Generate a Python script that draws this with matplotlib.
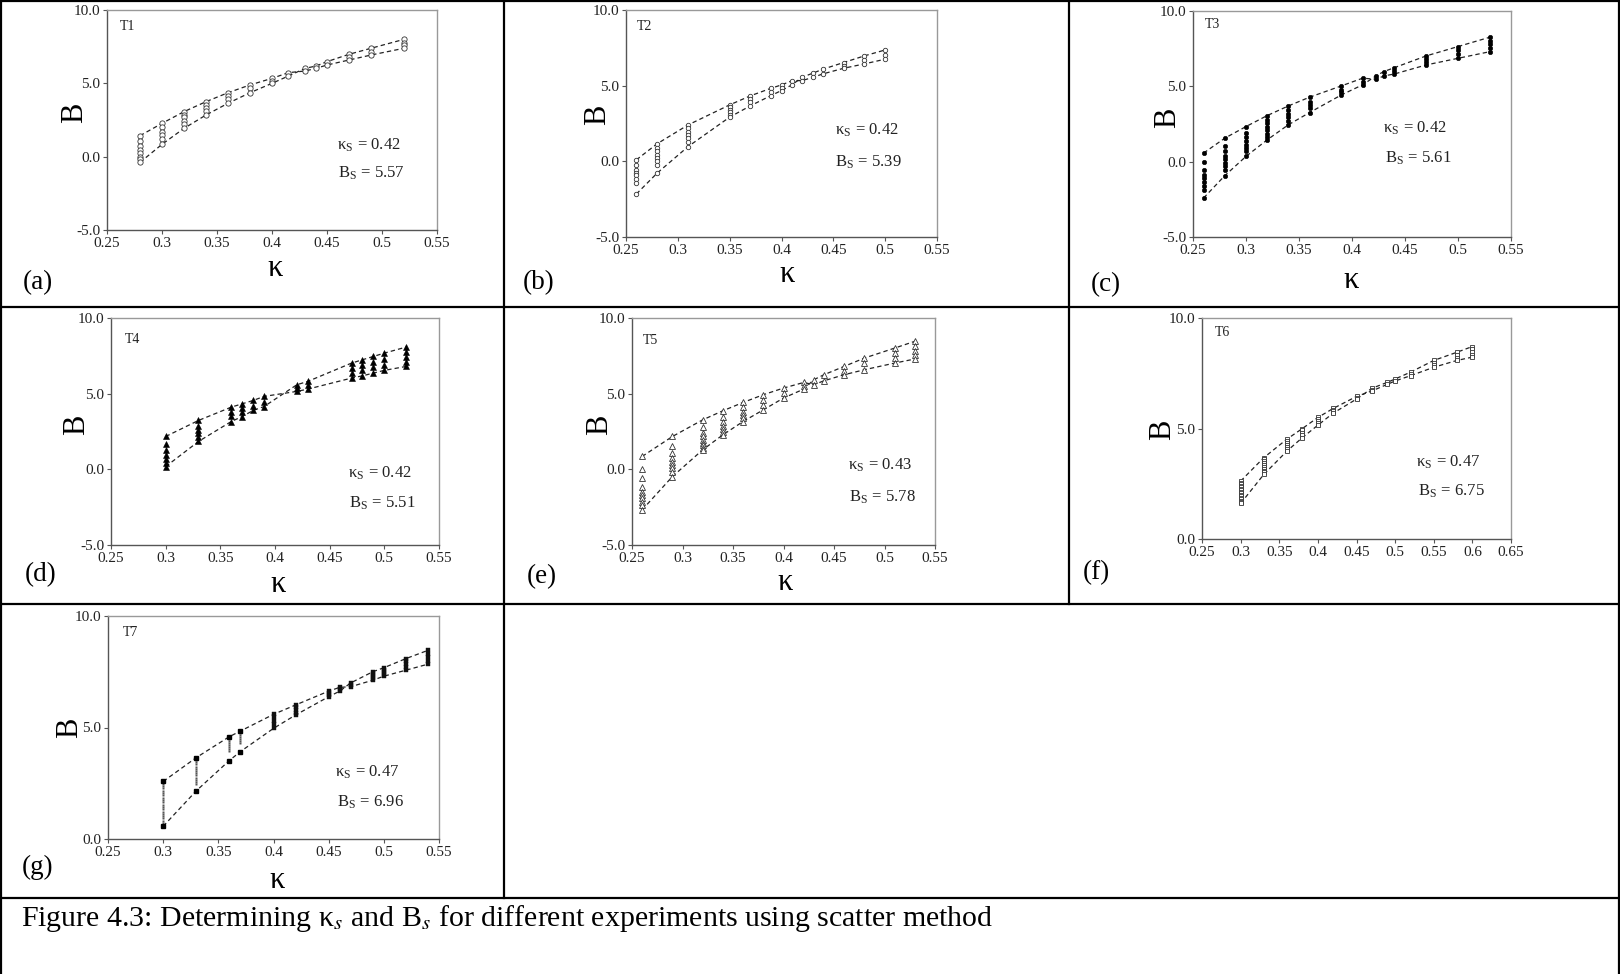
import numpy as np
import matplotlib
matplotlib.use("Agg")
import matplotlib.pyplot as plt
from matplotlib.lines import Line2D

plt.rcParams['font.family'] = ['Liberation Serif', 'DejaVu Serif']
plt.rcParams['mathtext.fontset'] = 'stix'

W, H = 1620, 974

# ---- data: kappa columns and the B values in each column ----
t1_kappa = [0.28, 0.30, 0.32, 0.34, 0.36, 0.38, 0.40, 0.415, 0.43, 0.44, 0.45, 0.47, 0.49, 0.52]
t1_B = [[1.43, 1.09, 0.75, 0.45, 0.23, 0.0, -0.18, -0.39],
        [2.27, 2.0, 1.70, 1.48, 1.18, 0.84],
        [3.07, 2.84, 2.68, 2.45, 2.23, 1.93],
        [3.75, 3.52, 3.30, 3.11, 2.84],
        [4.36, 4.16, 3.93, 3.64],
        [4.89, 4.66, 4.36],
        [5.34, 5.17, 5.0],
        [5.73, 5.5],
        [6.02, 5.84],
        [6.18, 6.02],
        [6.48, 6.25],
        [6.98, 6.78, 6.59],
        [7.39, 7.15, 6.93],
        [8.0, 7.78, 7.58, 7.39]]

t2_kappa = [0.26, 0.28, 0.31, 0.35, 0.37, 0.39, 0.40, 0.41, 0.42, 0.43, 0.44, 0.46, 0.48, 0.50]
t2_B = [[0.10, -0.27, -0.60, -0.77, -0.93, -1.15, -1.44, -2.16],
        [1.16, 0.87, 0.65, 0.43, 0.21, -0.01, -0.23, -0.78],
        [2.41, 2.19, 1.97, 1.75, 1.53, 1.31, 0.98],
        [3.73, 3.58, 3.40, 3.23, 3.07, 2.92],
        [4.33, 4.10, 3.90, 3.67],
        [4.83, 4.60, 4.35],
        [5.05, 4.85, 4.68],
        [5.32, 5.05],
        [5.56, 5.34],
        [5.82, 5.54],
        [6.09, 5.78],
        [6.53, 6.30, 6.15],
        [6.97, 6.70, 6.44],
        [7.36, 7.05, 6.75]]

t3_kappa = [0.26, 0.28, 0.30, 0.32, 0.34, 0.36, 0.39, 0.41, 0.423, 0.43, 0.44, 0.47, 0.50, 0.53]
t3_B = [[0.57, -0.05, -0.54, -0.87, -1.09, -1.38, -1.64, -1.91, -2.41],
        [1.56, 1.05, 0.68, 0.39, 0.17, -0.10, -0.32, -0.54, -0.93],
        [2.33, 1.89, 1.63, 1.34, 1.12, 0.90, 0.68, 0.35],
        [3.06, 2.78, 2.56, 2.33, 2.07, 1.85, 1.63, 1.45],
        [3.70, 3.44, 3.17, 2.95, 2.73, 2.45],
        [4.28, 3.99, 3.77, 3.55, 3.26],
        [5.03, 4.76, 4.61, 4.43],
        [5.54, 5.32, 5.10],
        [5.71, 5.47],
        [5.98, 5.69],
        [6.24, 6.03, 5.82],
        [7.02, 6.80, 6.60, 6.42],
        [7.64, 7.40, 7.12, 6.86],
        [8.26, 8.00, 7.78, 7.55, 7.30]]

t4_kappa = [0.30, 0.33, 0.36, 0.37, 0.38, 0.39, 0.42, 0.43, 0.47, 0.48, 0.49, 0.50, 0.52]
t4_B = [[2.17, 1.68, 1.29, 0.96, 0.67, 0.40, 0.18],
        [3.23, 2.87, 2.61, 2.39, 2.12, 1.84],
        [4.11, 3.82, 3.54, 3.16],
        [4.33, 4.04, 3.76, 3.49],
        [4.55, 4.20, 3.89],
        [4.82, 4.48, 4.15],
        [5.59, 5.37, 5.15],
        [5.81, 5.55, 5.30],
        [7.02, 6.69, 6.36, 6.03],
        [7.24, 6.91, 6.54, 6.18],
        [7.46, 7.09, 6.74, 6.36],
        [7.68, 7.29, 6.91, 6.54],
        [8.08, 7.73, 7.42, 7.11, 6.80]]

t5_kappa = [0.26, 0.29, 0.32, 0.34, 0.36, 0.38, 0.40, 0.42, 0.43, 0.44, 0.46, 0.48, 0.51, 0.53]
t5_B = [[0.85, 0.01, -0.59, -1.14, -1.47, -1.69, -1.91, -2.13, -2.35, -2.68],
        [2.17, 1.55, 1.07, 0.73, 0.51, 0.29, 0.07, -0.15, -0.48],
        [3.27, 2.79, 2.43, 2.17, 1.95, 1.77, 1.60, 1.44, 1.29],
        [3.87, 3.49, 3.16, 2.87, 2.65, 2.50, 2.28],
        [4.42, 4.11, 3.82, 3.60, 3.38, 3.16],
        [4.93, 4.60, 4.26, 3.93],
        [5.37, 5.04, 4.71],
        [5.74, 5.52, 5.30],
        [5.92, 5.59],
        [6.25, 5.85],
        [6.80, 6.52, 6.25],
        [7.35, 7.00, 6.58],
        [8.01, 7.70, 7.35, 7.02],
        [8.46, 8.15, 7.85, 7.55, 7.29]]

t6_kappa = [0.30, 0.33, 0.36, 0.38, 0.40, 0.42, 0.45, 0.47, 0.49, 0.50, 0.52, 0.55, 0.58, 0.60]
t6_B = [[2.62, 2.55, 2.48, 2.41, 2.35, 2.28, 2.21, 2.14, 2.07, 2.01, 1.94, 1.87, 1.80, 1.74, 1.67, 1.61],
        [3.68, 3.60, 3.52, 3.43, 3.35, 3.26, 3.18, 3.09, 3.01, 2.92],
        [4.52, 4.43, 4.33, 4.24, 4.15, 4.06, 3.98],
        [5.00, 4.91, 4.81, 4.70, 4.59],
        [5.50, 5.41, 5.32, 5.23, 5.15],
        [5.91, 5.84, 5.77, 5.70],
        [6.45, 6.39, 6.33],
        [6.82, 6.76, 6.70],
        [7.09, 7.00],
        [7.24, 7.15],
        [7.55, 7.47, 7.39],
        [8.08, 7.98, 7.87, 7.77],
        [8.45, 8.33, 8.20, 8.08],
        [8.71, 8.58, 8.45, 8.33, 8.23]]

t7_kappa = [0.30, 0.33, 0.36, 0.37, 0.40, 0.42, 0.45, 0.46, 0.47, 0.49, 0.50, 0.52, 0.54]
t7_B = [[2.58, 2.47, 2.37, 2.27, 2.16, 2.06, 1.96, 1.85, 1.75, 1.65, 1.54, 1.44, 1.34, 1.23, 1.13, 1.03, 0.92, 0.82, 0.70, 0.57],
        [3.65, 3.55, 3.45, 3.35, 3.25, 3.15, 3.05, 2.95, 2.85, 2.75, 2.65, 2.55, 2.45, 2.16],
        [4.59, 4.50, 4.41, 4.32, 4.23, 4.14, 4.05, 3.96, 3.52],
        [4.84, 4.75, 4.66, 4.57, 4.48, 4.39, 4.30, 3.92],
        [5.59, 5.45, 5.30, 5.15, 4.96],
        [6.01, 5.90, 5.78, 5.67, 5.56],
        [6.63, 6.55, 6.47, 6.38],
        [6.80, 6.72, 6.63],
        [7.00, 6.92, 6.83],
        [7.50, 7.40, 7.30, 7.21, 7.12],
        [7.68, 7.58, 7.49, 7.39, 7.30],
        [8.09, 7.96, 7.83, 7.70, 7.57],
        [8.46, 8.30, 8.15, 8.00, 7.84]]

names = ["T1", "T2", "T3", "T4", "T5", "T6", "T7"]
letters = ["(a)", "(b)", "(c)", "(d)", "(e)", "(f)", "(g)"]
kappa_s = [0.42, 0.42, 0.42, 0.42, 0.43, 0.47, 0.47]
B_s = [5.57, 5.39, 5.61, 5.51, 5.78, 6.75, 6.96]
kappas = [t1_kappa, t2_kappa, t3_kappa, t4_kappa, t5_kappa, t6_kappa, t7_kappa]
Bs = [t1_B, t2_B, t3_B, t4_B, t5_B, t6_B, t7_B]

xt_short = [0.25, 0.30, 0.35, 0.40, 0.45, 0.50, 0.55]
xt_short_lbl = ["0.25", "0.3", "0.35", "0.4", "0.45", "0.5", "0.55"]
xt_long = [0.25, 0.30, 0.35, 0.40, 0.45, 0.50, 0.55, 0.60, 0.65]
xt_long_lbl = ["0.25", "0.3", "0.35", "0.4", "0.45", "0.5", "0.55", "0.6", "0.65"]
yt_full = [-5, 0, 5, 10]
yt_full_lbl = ["-5.0", "0.0", "5.0", "10.0"]
yt_pos = [0, 5, 10]
yt_pos_lbl = ["0.0", "5.0", "10.0"]

# ---- layout in pixels: axes box (left, right, top, bottom) and label anchors ----
boxes = [(107, 437, 10, 230), (626, 937, 10, 237), (1193, 1511, 11, 237),
         (111, 439, 318, 545), (632, 935, 318, 545), (1202, 1511, 318, 539),
         (108, 439, 616, 839)]
B_lab = [(75, 113), (598, 115), (1168, 118), (77, 425), (600, 425), (1163, 430), (70, 728)]
k_lab = [(275, 268), (787, 275), (1351, 280), (278, 585), (785, 583), None, (277, 880)]
let_lab = [(23, 283), (523, 283), (1091, 285), (25, 575), (527, 577), (1083, 573), (22, 867)]
t_lab = [(120, 27), (637, 27), (1205, 25), (125, 339), (643, 340), (1215, 333), (123, 633)]
ks_lab = [(337, 145), (835, 130), (1383, 128), (348, 473), (848, 465), (1416, 462), (335, 772)]
bs_lab = [(338, 173), (835, 162), (1385, 158), (349, 503), (849, 497), (1418, 491), (337, 802)]
markers = [dict(marker='o', ms=3.8, mfc='white', mec='#333333', mew=0.6),
           dict(marker='o', ms=3.2, mfc='white', mec='#333333', mew=0.6),
           dict(marker='o', ms=3.2, mfc='black', mec='black', mew=0.4),
           dict(marker='^', ms=3.8, mfc='black', mec='black', mew=0.4),
           dict(marker='^', ms=3.8, mfc='white', mec='#333333', mew=0.6),
           dict(marker='s', ms=2.8, mfc='white', mec='#333333', mew=0.6),
           dict(marker='s', ms=2.4, mfc='#111111', mec='#111111', mew=0.3)]
# T7: the sparse low-kappa columns are printed as fine grey dots
t7_fine = dict(marker='s', ms=1.6, mfc='#555555', mec='none')


def fx(x):
    return x / W


def fy(y):
    return 1 - y / H


fig = plt.figure(figsize=(W / 100, H / 100), dpi=100)

for i in range(7):
    l, r, t, b = boxes[i]
    ax = fig.add_axes([fx(l), fy(b), (r - l) / W, (b - t) / H])
    k = np.array(kappas[i])
    cols = Bs[i]
    top = np.array([max(c) for c in cols])
    bot = np.array([min(c) for c in cols])
    # the two scatter envelopes cross at kappa_s
    lineA = np.where(k < kappa_s[i], top, bot)
    lineB = np.where(k < kappa_s[i], bot, top)
    ax.plot(k, lineA, color='#222222', lw=0.9, ls=(0, (3.5, 2.5)), zorder=2)
    ax.plot(k, lineB, color='#222222', lw=0.9, ls=(0, (3.5, 2.5)), zorder=2)
    for kk, c in zip(k, cols):
        if i == 6 and kk < 0.38:
            ax.plot([kk] * len(c), c, ls='none', zorder=3, **t7_fine)
            ax.plot([kk, kk], [max(c), min(c)], ls='none', marker='s', ms=2.4,
                    mfc='black', mec='black', zorder=4)
        else:
            ax.plot([kk] * len(c), c, ls='none', zorder=3, **markers[i])

    if i == 5:
        ax.set_xlim(0.25, 0.65)
        ax.set_xticks(xt_long, xt_long_lbl)
    else:
        ax.set_xlim(0.25, 0.55)
        ax.set_xticks(xt_short, xt_short_lbl)
    if i >= 5:
        ax.set_ylim(0, 10)
        ax.set_yticks(yt_pos, yt_pos_lbl)
    else:
        ax.set_ylim(-5, 10)
        ax.set_yticks(yt_full, yt_full_lbl)

    for side in ['left', 'bottom']:
        ax.spines[side].set_color('#555555')
        ax.spines[side].set_linewidth(1.0)
    for side in ['top', 'right']:
        ax.spines[side].set_color('#999999')
        ax.spines[side].set_linewidth(1.0)
    ax.tick_params(direction='out', length=3, width=0.8, color='#555555',
                   labelsize=11, pad=2, labelcolor='#222222')

    x, y = B_lab[i]
    fig.text(fx(x), fy(y), "B", fontsize=22, rotation=90, ha='center', va='center')
    if k_lab[i] is not None:
        x, y = k_lab[i]
        fig.text(fx(x), fy(y), "κ", fontsize=22, ha='center', va='center')
    x, y = let_lab[i]
    fig.text(fx(x), fy(y), letters[i], fontsize=19.5, ha='left', va='center')
    x, y = t_lab[i]
    fig.text(fx(x), fy(y), names[i], fontsize=10, ha='left', va='center', color='#222222')
    x, y = ks_lab[i]
    fig.text(fx(x), fy(y), "κ$_\\mathregular{S}$ = %.2f" % kappa_s[i], fontsize=12,
             ha='left', va='center', color='#222222')
    x, y = bs_lab[i]
    fig.text(fx(x), fy(y), "B$_\\mathregular{S}$ = %.2f" % B_s[i], fontsize=12,
             ha='left', va='center', color='#222222')

# table borders
segs = [((0, 1), (W, 1)), ((1, 0), (1, H)), ((W - 1, 0), (W - 1, H)),
        ((0, 307), (W, 307)), ((0, 604), (W, 604)), ((0, 898), (W, 898)),
        ((504, 0), (504, 898)), ((1069, 0), (1069, 604))]
for (x0, y0), (x1, y1) in segs:
    fig.add_artist(Line2D([fx(x0), fx(x1)], [fy(y0), fy(y1)], transform=fig.transFigure,
                          color='black', lw=1.6))

fig.text(fx(21), fy(918), "Figure 4.3: Determining κ$_s$ and B$_s$ for different experiments using scatter method",
         fontsize=21.5, ha='left', va='center')

fig.savefig("out.png", dpi=100)
